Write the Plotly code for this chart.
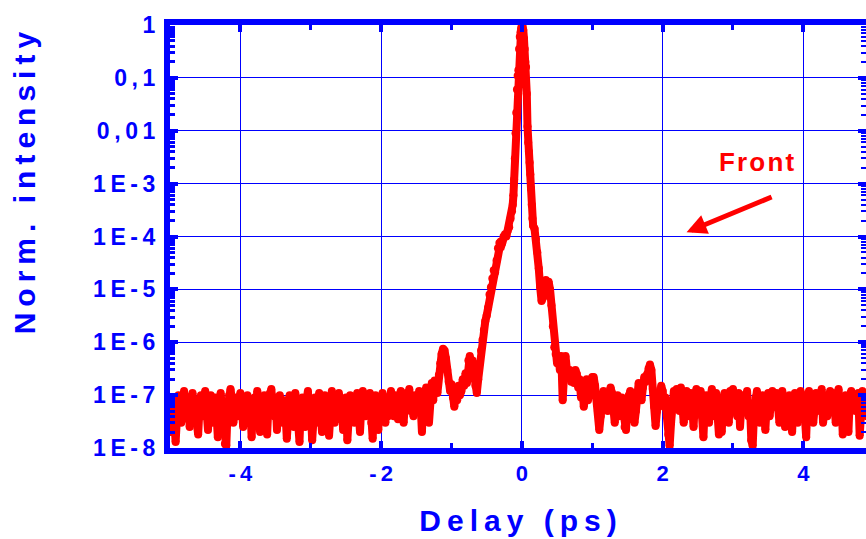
import plotly.graph_objects as go

# ---------------- data ----------------
DELAY_LEFT = [-5.00, -4.98, -4.96, -4.94, -4.92, -4.90, -4.88, -4.86, -4.84, -4.82,
              -4.80, -4.78, -4.76, -4.74, -4.72, -4.70, -4.68, -4.66, -4.64, -4.62,
              -4.60, -4.58, -4.56, -4.54, -4.52, -4.50, -4.48, -4.46, -4.44, -4.42,
              -4.40, -4.38, -4.36, -4.34, -4.32, -4.30, -4.28, -4.26, -4.24, -4.22,
              -4.20, -4.18, -4.16, -4.14, -4.12, -4.10, -4.08, -4.06, -4.04, -4.02,
              -4.00, -3.98, -3.96, -3.94, -3.92, -3.90, -3.88, -3.86, -3.84, -3.82,
              -3.80, -3.78, -3.76, -3.74, -3.72, -3.70, -3.68, -3.66, -3.64, -3.62,
              -3.60, -3.58, -3.56, -3.54, -3.52, -3.50, -3.48, -3.46, -3.44, -3.42,
              -3.40, -3.38, -3.36, -3.34, -3.32, -3.30, -3.28, -3.26, -3.24, -3.22,
              -3.20, -3.18, -3.16, -3.14, -3.12, -3.10, -3.08, -3.06, -3.04, -3.02,
              -3.00, -2.98, -2.96, -2.94, -2.92, -2.90, -2.88, -2.86, -2.84, -2.82,
              -2.80, -2.78, -2.76, -2.74, -2.72, -2.70, -2.68, -2.66, -2.64, -2.62,
              -2.60, -2.58, -2.56, -2.54, -2.52, -2.50, -2.48, -2.46, -2.44, -2.42,
              -2.40, -2.38, -2.36, -2.34, -2.32, -2.30, -2.28, -2.26, -2.24, -2.22,
              -2.20, -2.18, -2.16, -2.14, -2.12, -2.10, -2.08, -2.06, -2.04, -2.02,
              -2.00, -1.98, -1.96, -1.94, -1.92, -1.90, -1.88, -1.86, -1.84, -1.82,
              -1.80, -1.78, -1.76, -1.74, -1.72, -1.70, -1.68, -1.66, -1.64, -1.62,
              -1.60, -1.58, -1.56, -1.54, -1.52]
INT_LEFT = [6e-8, 2e-8, 9e-8, 5e-8, 1.3e-8, 4e-8, 1e-7, 7e-8, 3e-8, 8e-8,
            1.2e-7, 6e-8, 4e-8, 9e-8, 2.5e-8, 7e-8, 1.1e-7, 5e-8, 8e-8, 3e-8,
            1.8e-8, 6e-8, 1e-7, 4e-8, 7e-8, 1.2e-7, 5e-8, 2.2e-8, 8e-8, 1e-7,
            3e-8, 6e-8, 9e-8, 4.5e-8, 1.6e-8, 7e-8, 1.1e-7, 5e-8, 3e-8, 1.2e-8,
            1.1e-8, 6e-8, 1e-7, 1.3e-7, 8e-8, 3e-8, 5e-8, 9e-8, 4e-8, 7e-8,
            1.1e-7, 6e-8, 2.5e-8, 8e-8, 5e-8, 1e-7, 3.5e-8, 7e-8, 1.6e-8, 6e-8,
            9e-8, 4e-8, 1.2e-7, 6e-8, 2e-8, 8e-8, 5e-8, 1e-7, 3e-8, 1.8e-8,
            7e-8, 1.1e-7, 1.3e-7, 6e-8, 4e-8, 9e-8, 2.2e-8, 7e-8, 1e-7, 5e-8,
            3e-8, 8e-8, 5e-8, 1.5e-8, 6e-8, 1e-7, 4e-8, 8e-8, 2.5e-8, 1.1e-7,
            6e-8, 3e-8, 1.3e-8, 7e-8, 9e-8, 5e-8, 2.5e-8, 8e-8, 1.2e-7, 4e-8,
            6e-8, 1.4e-8, 4e-8, 9e-8, 3e-8, 7e-8, 1.1e-7, 5e-8, 2e-8, 8e-8,
            1e-7, 4e-8, 6e-8, 1.7e-8, 8e-8, 1.2e-7, 5e-8, 3e-8, 9e-8, 6e-8,
            1.1e-7, 4e-8, 7e-8, 2.2e-8, 5e-8, 9e-8, 1.4e-8, 6e-8, 1e-7, 4e-8,
            8e-8, 3e-8, 6e-8, 1.1e-7, 5e-8, 2e-8, 7e-8, 1.2e-7, 8e-8, 4e-8,
            9e-8, 6e-8, 1.1e-7, 3e-8, 1.5e-8, 7e-8, 1e-7, 5e-8, 2.2e-8, 8e-8,
            5e-8, 1.1e-7, 7e-8, 3e-8, 9e-8, 4e-8, 6e-8, 1.2e-7, 8e-8, 4e-8,
            1e-7, 6e-8, 3.5e-8, 9e-8, 1.2e-7, 5e-8, 3e-8, 8e-8, 1.1e-7, 7e-8,
            1.3e-7, 5e-8, 9e-8, 4e-8, 1e-7]

DELAY_MID = [-1.50, -1.48, -1.46, -1.44, -1.42, -1.40, -1.38, -1.36, -1.34, -1.32,
             -1.30, -1.28, -1.26, -1.24, -1.22, -1.20, -1.18, -1.16, -1.14, -1.12,
             -1.10, -1.08, -1.06, -1.04, -1.02, -1.00, -0.98, -0.96, -0.94, -0.92,
             -0.90, -0.88, -0.86, -0.84, -0.82, -0.80, -0.78, -0.76, -0.74, -0.72,
             -0.70, -0.68, -0.66, -0.64, -0.62, -0.60, -0.58, -0.56, -0.54, -0.52,
             -0.50, -0.48, -0.46, -0.44, -0.42, -0.40, -0.38, -0.36, -0.34, -0.32,
             -0.30, -0.28, -0.26, -0.24, -0.22, -0.20, -0.18, -0.16, -0.14]
INT_MID = [9e-8, 5e-8, 1.2e-7, 7e-8, 2e-8, 1e-7, 6e-8, 1.4e-7, 9e-8, 3e-8,
           1.3e-7, 1.7e-7, 8e-8, 1.9e-7, 1.4e-7, 1.1e-7, 2.4e-7, 4e-7, 6e-7, 7.5e-7,
           7e-7, 5e-7, 3e-7, 1.8e-7, 1.2e-7, 1.6e-7, 9e-8, 6e-8, 1.1e-7, 8e-8,
           1.5e-7, 1e-7, 1.2e-7, 2e-7, 1.5e-7, 2.6e-7, 1.7e-7, 4.5e-7, 5.5e-7, 3.5e-7,
           4.5e-7, 2.5e-7, 1.5e-7, 1.1e-7, 2e-7, 4e-7, 7e-7, 1.1e-6, 1.7e-6, 2.5e-6,
           3.2e-6, 4.5e-6, 8e-6, 1.1e-5, 1.6e-5, 2.3e-5, 2.1e-5, 3.5e-5, 6e-5, 7.5e-5,
           8e-5, 7.5e-5, 1e-4, 1.1e-4, 1e-4, 1.3e-4, 1.5e-4, 2.2e-4, 3e-4]

DELAY_PEAK = [-0.13, -0.12, -0.11, -0.10, -0.09, -0.08, -0.07, -0.06, -0.05, -0.04,
              -0.03, -0.02, -0.01, 0.00, 0.01, 0.02, 0.03, 0.04, 0.05, 0.06,
              0.07, 0.08, 0.09, 0.10, 0.11, 0.12, 0.13, 0.14, 0.15, 0.16]
INT_PEAK = [4e-4, 6e-4, 1.2e-3, 3e-3, 9e-3, 0.022, 0.06, 0.11, 0.14, 0.35,
            0.6, 0.72, 0.85, 1.0, 0.95, 0.8, 0.55, 0.35, 0.2, 0.16,
            0.05, 0.012, 6e-3, 4e-3, 2.5e-3, 1.5e-3, 8e-4, 4e-4, 2.2e-4, 1.6e-4]

DELAY_TAIL = [0.18, 0.20, 0.22, 0.24, 0.26, 0.28, 0.30, 0.32, 0.34, 0.36,
              0.38, 0.40, 0.42, 0.44, 0.46, 0.48, 0.50, 0.52, 0.54, 0.56,
              0.58, 0.60, 0.62, 0.64, 0.66, 0.68, 0.70, 0.72, 0.74, 0.76,
              0.78, 0.80, 0.82, 0.84, 0.86, 0.88, 0.90, 0.92, 0.94, 0.96,
              0.98, 1.00]
INT_TAIL = [1.4e-4, 9e-5, 5e-5, 2.5e-5, 1.1e-5, 6e-6, 7e-6, 1.4e-5, 1.5e-5, 1.2e-5,
            1.4e-5, 1e-5, 5e-6, 2e-6, 8e-7, 6e-7, 4e-7, 5.5e-7, 3e-7, 5.5e-7,
            8e-8, 2.5e-7, 5.5e-7, 3e-7, 2.2e-7, 3e-7, 1.8e-7, 2.5e-7, 1.7e-7, 3e-7,
            2.5e-7, 1.4e-7, 2e-7, 9e-8, 1.5e-7, 6e-8, 1.2e-7, 2e-7, 8e-8, 1.5e-7,
            1e-7, 2.2e-7]

DELAY_RIGHT = [1.02, 1.04, 1.06, 1.08, 1.10, 1.12, 1.14, 1.16, 1.18, 1.20,
               1.22, 1.24, 1.26, 1.28, 1.30, 1.32, 1.34, 1.36, 1.38, 1.40,
               1.42, 1.44, 1.46, 1.48, 1.50, 1.52, 1.54, 1.56, 1.58, 1.60,
               1.62, 1.64, 1.66, 1.68, 1.70, 1.72, 1.74, 1.76, 1.78, 1.80,
               1.82, 1.84, 1.86, 1.88, 1.90, 1.92, 1.94, 1.96, 1.98, 2.00,
               2.02, 2.04, 2.06, 2.08, 2.10, 2.12, 2.14, 2.16, 2.18, 2.20,
               2.22, 2.24, 2.26, 2.28, 2.30, 2.32, 2.34, 2.36, 2.38, 2.40,
               2.42, 2.44, 2.46, 2.48, 2.50, 2.52, 2.54, 2.56, 2.58, 2.60,
               2.62, 2.64, 2.66, 2.68, 2.70, 2.72, 2.74, 2.76, 2.78, 2.80,
               2.82, 2.84, 2.86, 2.88, 2.90, 2.92, 2.94, 2.96, 2.98, 3.00,
               3.02, 3.04, 3.06, 3.08, 3.10, 3.12, 3.14, 3.16, 3.18, 3.20,
               3.22, 3.24, 3.26, 3.28, 3.30, 3.32, 3.34, 3.36, 3.38, 3.40,
               3.42, 3.44, 3.46, 3.48, 3.50, 3.52, 3.54, 3.56, 3.58, 3.60,
               3.62, 3.64, 3.66, 3.68, 3.70, 3.72, 3.74, 3.76, 3.78, 3.80,
               3.82, 3.84, 3.86, 3.88, 3.90, 3.92, 3.94, 3.96, 3.98, 4.00,
               4.02, 4.04, 4.06, 4.08, 4.10, 4.12, 4.14, 4.16, 4.18, 4.20,
               4.22, 4.24, 4.26, 4.28, 4.30, 4.32, 4.34, 4.36, 4.38, 4.40,
               4.42, 4.44, 4.46, 4.48, 4.50, 4.52, 4.54, 4.56, 4.58, 4.60,
               4.62, 4.64, 4.66, 4.68, 4.70, 4.72, 4.74, 4.76, 4.78, 4.80,
               4.82, 4.84, 4.86, 4.88, 4.90]
INT_RIGHT = [2.2e-7, 1.5e-7, 9e-8, 5e-8, 2.2e-8, 4e-8, 8e-8, 1.2e-7, 7e-8, 1e-7,
             5e-8, 9e-8, 1.4e-7, 1.1e-7, 6e-8, 3e-8, 8e-8, 1e-7, 4e-8, 6e-8,
             9e-8, 5e-8, 2.5e-8, 2.2e-8, 6e-8, 1e-7, 1.2e-7, 7e-8, 4e-8, 3e-8,
             5e-8, 9e-8, 1.7e-7, 1.2e-7, 8e-8, 1.4e-7, 2.2e-7, 1.8e-7, 2.5e-7, 3.2e-7,
             3.8e-7, 3e-7, 1.3e-7, 6e-8, 2.6e-8, 5e-8, 1.1e-7, 8e-8, 1.5e-7, 1.2e-7,
             6e-8, 9e-8, 4e-8, 1.8e-8, 1.1e-8, 3e-8, 8e-8, 1.2e-7, 6e-8, 1.3e-7,
             9e-8, 5e-8, 1.4e-7, 7e-8, 3e-8, 9e-8, 1.2e-7, 4e-8, 8e-8, 1.1e-7,
             6e-8, 2.5e-8, 9e-8, 1.3e-7, 5e-8, 8e-8, 1.2e-7, 4e-8, 1.6e-8, 7e-8,
             1e-7, 5e-8, 3e-8, 9e-8, 1.3e-7, 7e-8, 4e-8, 1.1e-7, 6e-8, 1.8e-8,
             4e-8, 2e-8, 8e-8, 1.1e-7, 5e-8, 9e-8, 3e-8, 1.2e-7, 7e-8, 1.3e-7,
             6e-8, 9e-8, 4e-8, 1.1e-7, 2.5e-8, 7e-8, 1e-7, 5e-8, 8e-8, 1.2e-7,
             4e-8, 7e-8, 1.4e-8, 1.1e-8, 5e-8, 9e-8, 1.2e-7, 6e-8, 3e-8, 8e-8,
             1e-7, 5e-8, 2.2e-8, 7e-8, 1.1e-7, 4e-8, 8e-8, 1.2e-7, 6e-8, 9e-8,
             1.1e-7, 6e-8, 3e-8, 8e-8, 1.2e-7, 5e-8, 2.5e-8, 9e-8, 7e-8, 1e-7,
             5e-8, 2e-8, 8e-8, 1.1e-7, 6e-8, 3e-8, 9e-8, 1.2e-7, 7e-8, 1e-7,
             4e-8, 1.6e-8, 8e-8, 1.2e-7, 6e-8, 1e-7, 3e-8, 7e-8, 1.1e-7, 5e-8,
             9e-8, 6e-8, 1.3e-7, 3e-8, 7e-8, 1e-7, 4e-8, 8e-8, 1.2e-7, 6e-8,
             1.1e-7, 7e-8, 3e-8, 9e-8, 1.3e-7, 5e-8, 8e-8, 1.8e-8, 6e-8, 1e-7,
             4e-8, 2e-8, 9e-8, 1.2e-7, 6e-8, 1e-7, 5e-8, 8e-8, 1.1e-7, 1.7e-8,
             7e-8, 1.2e-7, 5e-8, 9e-8, 4e-8]

TS = "\u2009"  # thin space used as letter spacing
Y_TICK_VALS = [1e-8, 1e-7, 1e-6, 1e-5, 1e-4, 1e-3, 1e-2, 1e-1, 1]
Y_TICK_TEXT = ["1E-8", "1E-7", "1E-6", "1E-5", "1E-4", "1E-3", "0,01", "0,1", "1"]
X_TICK_VALS = [-4, -2, 0, 2, 4]
X_TICK_TEXT = ["-4", "-2", "0", "2", "4"]
X_MINOR_VALS = [-5, -3, -1, 1, 3]

X_TITLE = "Delay (ps)"
Y_TITLE = "Norm. intensity"
NOTE = "Front"


def spaced(s, sep=TS):
    return sep.join(list(s))


for a, b in [(DELAY_LEFT, INT_LEFT), (DELAY_MID, INT_MID), (DELAY_PEAK, INT_PEAK),
             (DELAY_TAIL, INT_TAIL), (DELAY_RIGHT, INT_RIGHT)]:
    assert len(a) == len(b), (len(a), len(b))

delay = DELAY_LEFT + DELAY_MID + DELAY_PEAK + DELAY_TAIL + DELAY_RIGHT
intensity = INT_LEFT + INT_MID + INT_PEAK + INT_TAIL + INT_RIGHT

# ---------------- styling ----------------
BLUE = "#0000ff"
RED = "#ff0000"
FONT = "Liberation Sans, Arial, sans-serif"
Y_MINOR_VALS = [m * 10.0 ** e for e in range(-8, 0) for m in range(2, 10)]

fig = go.Figure()
fig.add_trace(go.Scatter(x=delay, y=intensity, mode="lines+markers",
                         line=dict(color=RED, width=8),
                         marker=dict(color=RED, size=8, line=dict(width=0)),
                         showlegend=False, hoverinfo="skip", cliponaxis=True))
# empty trace so the right-hand (mirrored) tick axis is drawn
fig.add_trace(go.Scatter(x=[None], y=[None], yaxis="y2", mode="lines",
                         showlegend=False, hoverinfo="skip"))

fig.update_layout(
    width=866, height=539,
    margin=dict(l=170, r=0, t=25, b=91),
    paper_bgcolor="white", plot_bgcolor="white",
    xaxis=dict(
        range=[-5, 4.89], tickmode="array", tickvals=X_TICK_VALS,
        ticktext=[spaced(t) for t in X_TICK_TEXT],
        ticks="inside", ticklen=7, tickwidth=4, tickcolor=BLUE,
        showline=True, linewidth=6, linecolor=BLUE, mirror="ticks",
        showgrid=True, gridcolor=BLUE, gridwidth=1.3, zeroline=False,
        tickfont=dict(family=FONT, size=22, color=BLUE, weight="bold"),
        ticklabelstandoff=1,
        minor=dict(tickmode="array", tickvals=X_MINOR_VALS, ticks="inside",
                   ticklen=5, tickwidth=3, tickcolor=BLUE, showgrid=False),
        title=dict(text=spaced(X_TITLE), standoff=27,
                   font=dict(family=FONT, size=30, color=BLUE, weight="bold")),
    ),
    yaxis=dict(
        type="log", range=[-8, 0], tickmode="array", tickvals=Y_TICK_VALS,
        ticktext=[spaced(t) for t in Y_TICK_TEXT],
        ticks="inside", ticklen=8, tickwidth=4, tickcolor=BLUE,
        showline=True, linewidth=6, linecolor=BLUE, mirror=False,
        showgrid=True, gridcolor=BLUE, gridwidth=1.3, zeroline=False,
        tickfont=dict(family=FONT, size=23, color=BLUE, weight="bold"),
        ticklabelstandoff=4,
        minor=dict(tickmode="array", tickvals=Y_MINOR_VALS, ticks="inside",
                   ticklen=5, tickwidth=3, tickcolor=BLUE, showgrid=False),
    ),
    yaxis2=dict(
        type="log", range=[-8, 0], overlaying="y", side="right", anchor="x",
        tickmode="array", tickvals=Y_TICK_VALS, showticklabels=False,
        ticks="inside", ticklen=8, tickwidth=4, tickcolor=BLUE,
        showline=False, showgrid=False, zeroline=False,
        minor=dict(tickmode="array", tickvals=Y_MINOR_VALS, ticks="inside",
                   ticklen=5, tickwidth=2, tickcolor=BLUE, showgrid=False),
    ),
    annotations=[
        dict(text=spaced(Y_TITLE), xref="paper", yref="paper", x=-0.209, y=0.627,
             xanchor="center", yanchor="middle", textangle=-90, showarrow=False,
             font=dict(family=FONT, size=30, color=BLUE, weight="bold")),
        dict(text=spaced(NOTE, "\u200a"), xref="x", yref="y", x=3.34, y=-2.6,
             xanchor="center", yanchor="middle", showarrow=False,
             font=dict(family=FONT, size=26, color=RED, weight="bold")),
        dict(text="", xref="x", yref="y", x=2.34, y=-3.92,
             axref="x", ayref="y", ax=3.57, ay=-3.24,
             showarrow=True, arrowhead=2, arrowsize=0.8, arrowwidth=5,
             arrowcolor=RED, standoff=0),
    ],
)

fig.write_html("out.html")
